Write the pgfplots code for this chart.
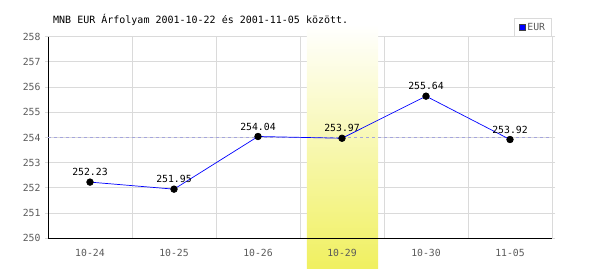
\documentclass[border=0pt]{standalone}
\usepackage{fontspec}
\setmainfont{DejaVu Sans Mono}
\usepackage{pgfplots}
\pgfplotsset{compat=1.18}
\definecolor{gridc}{RGB}{218,218,218}
\definecolor{tickc}{RGB}{90,90,90}
\definecolor{bandc}{RGB}{240,240,96}
\definecolor{dashc}{RGB}{165,165,220}
\pgfplotsset{
  commonax/.style={
    at={(48pt,31.7pt)}, anchor=south west, scale only axis,
    width=504pt, height=201.6pt,
    xmin=-0.5, xmax=5.5, ymin=250, ymax=258,
    clip=false,
    axis line style={draw=none},
    xtick={0,1,2,3,4,5},
    ytick={250,251,...,258},
    tick align=outside,
    x tick style={draw=none},
    y tick style={draw=gridc, line width=0.8pt},
    major tick length=3pt,
    /pgf/number format/assume math mode=true,
    tick label style={font=\fontsize{9.8}{11}\selectfont, text=tickc},
  }
}
\begin{document}
\begin{tikzpicture}
\path[use as bounding box] (0,0) rectangle (600pt,270pt);
% background axis: grid and highlight band
\begin{axis}[
  commonax,
  xticklabels={}, yticklabels={},
  extra x ticks={0.5,1.5,2.5,3.5,4.5,5.5},
  extra x tick labels={},
  extra x tick style={grid=major, major tick length=0pt},
  ymajorgrids=true,
  grid style={draw=gridc, line width=0.8pt},
  major grid style={draw=gridc, line width=0.8pt},
]
\shade[top color=white, bottom color=bandc] (axis cs:2.583,248.81) rectangle (axis cs:3.43,258.48);
\end{axis}
% foreground axis: labels, data, legend
\begin{axis}[
  commonax,
  xticklabels={10-24,10-25,10-26,10-29,10-30,11-05},
  xticklabel style={yshift=-4pt},
  yticklabel style={xshift=-1pt},
  legend style={at={(1,1)}, anchor=south east, draw=gridc, line width=0.8pt,
    font=\fontsize{9.8}{11}\selectfont, text=tickc, inner xsep=4.5pt, inner ysep=2.5pt,
    legend cell align=left},
  legend image code/.code={\draw[fill=blue, draw=darkgray, line width=0.6pt] (0pt,-3pt) rectangle (6pt,3pt);},
]
\draw[black, line width=0.9pt] (axis cs:-0.5,258) -- (axis cs:-0.5,250) -- (axis cs:5.5,250);
\addplot[dashc, dashed, line width=0.7pt, forget plot] coordinates {(-0.5,254) (5.5,254)};
\addplot[blue, line width=0.7pt, mark=*, mark size=3.3pt,
  mark options={fill=black, draw=black},
  point meta=explicit symbolic, nodes near coords,
  every node near coord/.append style={font=\fontsize{9.8}{11}\selectfont, text=black, yshift=2.5pt}]
  coordinates {(0,252.23)[252.23] (1,251.95)[251.95] (2,254.04)[254.04] (3,253.97)[253.97] (4,255.64)[255.64] (5,253.92)[253.92]};
\addlegendentry{EUR}
\end{axis}
\node[anchor=west, font=\fontsize{10}{12}\selectfont, text=black, inner sep=0pt] at (53pt,250pt) {MNB EUR Árfolyam 2001-10-22 és 2001-11-05 között.};
\end{tikzpicture}
\end{document}
